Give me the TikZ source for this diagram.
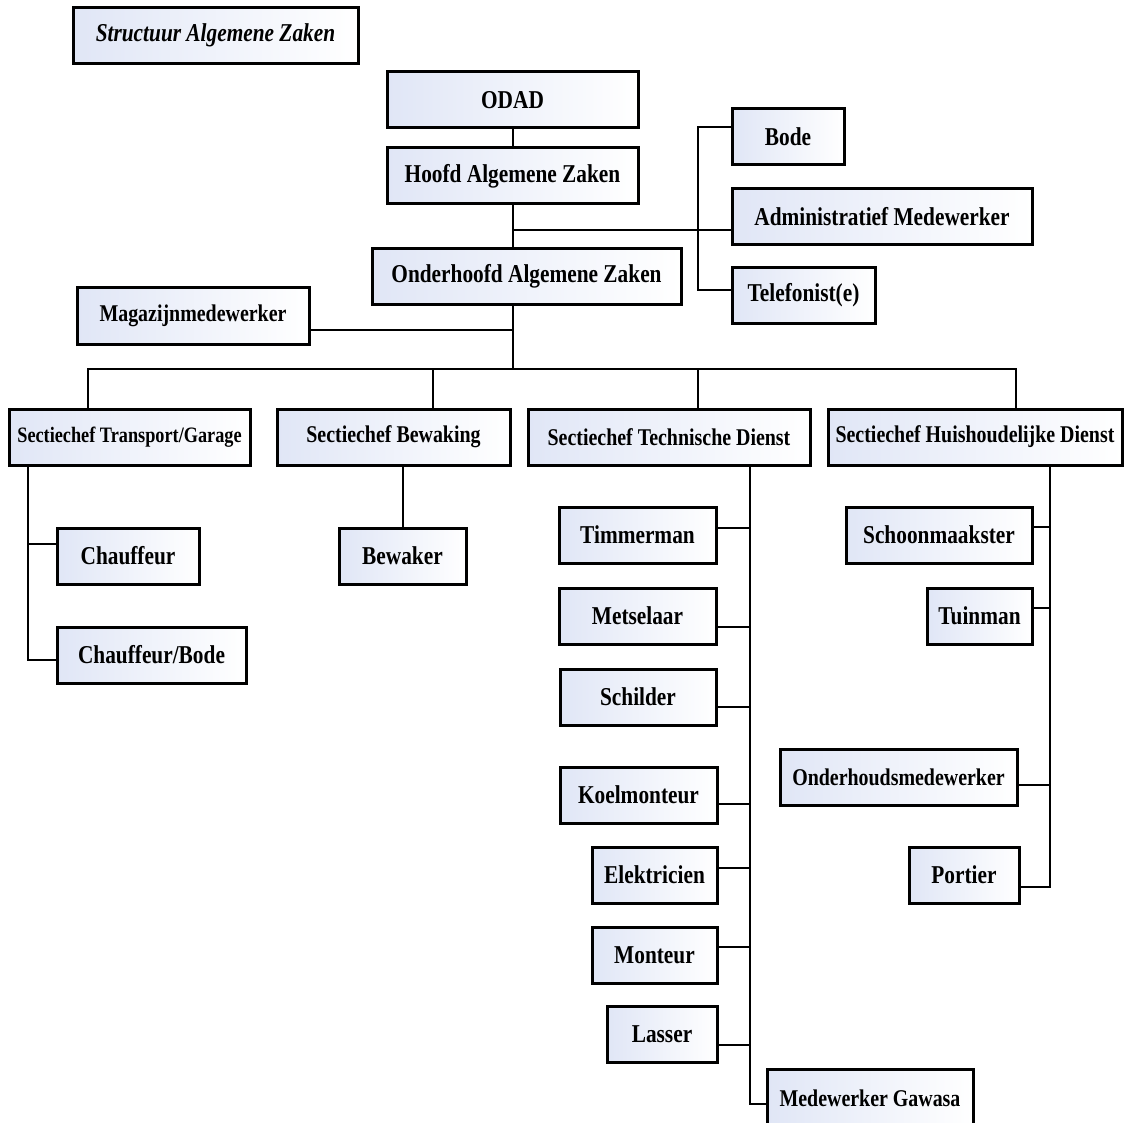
\documentclass[tikz,border=0pt]{standalone}
\usepackage{fontspec}
\setmainfont[FakeStretch=0.83]{Liberation Serif}
\definecolor{boxtint}{RGB}{224,230,246}
\tikzset{
  box/.style={draw=black, line width=3pt, left color=boxtint, right color=white,
    inner sep=0pt, minimum height=56pt, font=\bfseries\fontsize{25.7}{30}\selectfont},
  smallbox/.style={box, font=\bfseries\fontsize{24}{28}\selectfont},
  titlebox/.style={box, font=\bfseries\itshape\fontsize{25.7}{30}\selectfont},
  link/.style={line width=2pt, line join=miter},
}
\begin{document}
\begin{tikzpicture}[x=1pt, y=-1pt]
  \clip (0,0) rectangle (1124,1123);
  \node[titlebox, minimum width=285pt] (title) at (215.5,35.5) {Structuur Algemene Zaken};
  % top of the chart
  \node[box, minimum width=251pt] (odad) at (512.5,100) {ODAD};
  \node[box, minimum width=251pt] (hoofd) at (512.5,176) {Hoofd Algemene Zaken};
  \node[box, minimum width=309pt] (onderhoofd) at (526.5,276.5) {Onderhoofd Algemene Zaken};
  \node[box, minimum width=112pt] (bode) at (788,136.5) {Bode};
  \node[box, minimum width=300pt] (admin) at (882,217) {Administratief Medewerker};
  \node[box, minimum width=143pt] (telefonist) at (803.5,295.5) {Telefonist(e)};
  \node[smallbox, minimum width=232pt] (magazijn) at (193,316) {Magazijnmedewerker};
  % sections
  \node[box, minimum width=241pt, font=\bfseries\fontsize{22}{26}\selectfont] (transport) at (129.5,437) {Sectiechef Transport/Garage};
  \node[smallbox, minimum width=233pt] (bewaking) at (393.5,437) {Sectiechef Bewaking};
  \node[smallbox, minimum width=282pt] (technisch) at (669,437) {Sectiechef Technische Dienst};
  \node[smallbox, minimum width=294pt] (huish) at (975,437) {Sectiechef Huishoudelijke Dienst};
  % staff per section
  \node[box, minimum width=142pt] (chauffeur) at (128,556) {Chauffeur};
  \node[box, minimum width=189pt] (chaufbode) at (151.5,655) {Chauffeur/Bode};
  \node[box, minimum width=127pt] (bewaker) at (402.5,556) {Bewaker};
  \node[box, minimum width=157pt] (timmerman) at (637.5,535) {Timmerman};
  \node[box, minimum width=157pt] (metselaar) at (637.5,616) {Metselaar};
  \node[box, minimum width=156pt] (schilder) at (638,697) {Schilder};
  \node[box, minimum width=157pt] (koelmonteur) at (638.5,795) {Koelmonteur};
  \node[box, minimum width=125pt] (elektricien) at (654.5,875) {Elektricien};
  \node[box, minimum width=125pt] (monteur) at (654.5,955) {Monteur};
  \node[box, minimum width=110pt] (lasser) at (662,1034.5) {Lasser};
  \node[smallbox, minimum width=206pt, minimum height=58pt] (gawasa) at (870,1098) {Medewerker Gawasa};
  \node[box, minimum width=186pt] (schoonmaakster) at (939,535) {Schoonmaakster};
  \node[box, minimum width=105pt] (tuinman) at (979.5,616) {Tuinman};
  \node[smallbox, minimum width=237pt] (onderhouds) at (898.5,777) {Onderhoudsmedewerker};
  \node[box, minimum width=110pt] (portier) at (964,875) {Portier};

  \begin{scope}[link]
    \draw (odad) -- (hoofd);
    \draw (hoofd.south) -- (hoofd.south |- onderhoofd.north);
    \coordinate (hz) at (512.5,230);
    \draw (hz) -- (hz -| admin.west);
    \coordinate (sb) at (698,127);
    \coordinate (st) at (698,290);
    \draw (sb -| bode.west) -- (sb) -- (st) -- (st -| telefonist.west);
    \coordinate (mg) at (512.5,330);
    \coordinate (bus) at (512.5,369);
    \draw (onderhoofd.south -| bus) -- (bus);
    \draw (mg -| magazijn.east) -- (mg);
    \coordinate (busl) at (88,369);
    \coordinate (bw) at (433,369);
    \coordinate (tdn) at (698,369);
    \coordinate (busr) at (1016,369);
    \draw (busl |- transport.north) -- (busl) -- (busr) -- (busr |- huish.north);
    \draw (bw) -- (bw |- bewaking.north);
    \draw (tdn) -- (tdn |- technisch.north);
    % transport
    \coordinate (trc) at (28,544);
    \coordinate (trb) at (28,660);
    \draw (trc |- transport.south) -- (trb) -- (trb -| chaufbode.west);
    \draw (trc) -- (trc -| chauffeur.west);
    % bewaking
    \draw (bewaker.north |- bewaking.south) -- (bewaker.north);
    % technische dienst
    \coordinate (tdb) at (750,1104);
    \draw (tdb |- technisch.south) -- (tdb) -- (tdb -| gawasa.west);
    \foreach \n/\y in {timmerman/528, metselaar/627, schilder/707, koelmonteur/804,
        elektricien/868, monteur/947, lasser/1045}{
      \coordinate (k) at (750,\y);
      \draw (k) -- (k -| \n.east);
    }
    % huishoudelijke dienst
    \coordinate (hdb) at (1050,887);
    \draw (hdb |- huish.south) -- (hdb) -- (hdb -| portier.east);
    \foreach \n/\y in {schoonmaakster/527, tuinman/608, onderhouds/785}{
      \coordinate (k) at (1050,\y);
      \draw (k) -- (k -| \n.east);
    }
  \end{scope}
\end{tikzpicture}
\end{document}
